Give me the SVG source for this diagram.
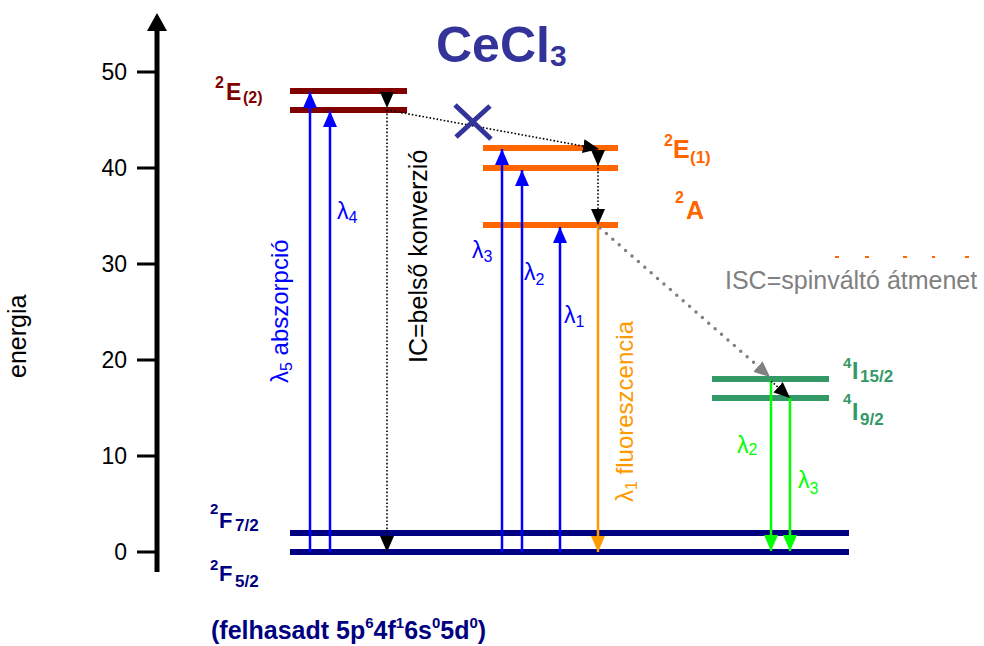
<svg xmlns="http://www.w3.org/2000/svg" width="984" height="646" viewBox="0 0 984 646">
<defs>
<style>
text{font-family:"Liberation Sans",Arial,sans-serif}
.b{font-weight:bold}
.lvl{stroke-width:6;fill:none}
.blue{stroke:#0000FF;stroke-width:2.5;fill:none}
.grn{stroke:#00FF00;stroke-width:2.5;fill:none}
.org{stroke:#FF9900;stroke-width:2.5;fill:none}
.dot{stroke:#000;stroke-width:1.6;stroke-dasharray:1.6 2;fill:none}
.gdot{stroke:#808080;stroke-width:3.5;stroke-dasharray:0 8.5;stroke-linecap:round;fill:none}
.tick{stroke:#000;stroke-width:3}
</style>
<marker id="ab" viewBox="0 0 16 14" refX="16" refY="7" markerWidth="16" markerHeight="14" orient="auto" markerUnits="userSpaceOnUse"><path d="M0,0L16,7L0,14z" fill="#0000FF"/></marker>
<marker id="ag" viewBox="0 0 16 14" refX="16" refY="7" markerWidth="16" markerHeight="14" orient="auto" markerUnits="userSpaceOnUse"><path d="M0,0L16,7L0,14z" fill="#00FF00"/></marker>
<marker id="ao" viewBox="0 0 16 14" refX="16" refY="7" markerWidth="16" markerHeight="14" orient="auto" markerUnits="userSpaceOnUse"><path d="M0,0L16,7L0,14z" fill="#FF9900"/></marker>
<marker id="ak" viewBox="0 0 16 14" refX="16" refY="7" markerWidth="16" markerHeight="14" orient="auto" markerUnits="userSpaceOnUse"><path d="M0,0L16,7L0,14z" fill="#000"/></marker>
<marker id="agr" viewBox="0 0 16 14" refX="16" refY="7" markerWidth="16" markerHeight="14" orient="auto" markerUnits="userSpaceOnUse"><path d="M0,0L16,7L0,14z" fill="#808080"/></marker>
</defs>
<rect width="984" height="646" fill="#fff"/>

<g id="axis">
<line x1="157" y1="572" x2="157" y2="28" stroke="#000" stroke-width="5"/>
<path d="M157,13L167,31L147,31z" fill="#000"/>
<line class="tick" x1="137" y1="72" x2="157" y2="72"/>
<line class="tick" x1="137" y1="168" x2="157" y2="168"/>
<line class="tick" x1="137" y1="264" x2="157" y2="264"/>
<line class="tick" x1="137" y1="360" x2="157" y2="360"/>
<line class="tick" x1="137" y1="456" x2="157" y2="456"/>
<line class="tick" x1="137" y1="552" x2="157" y2="552"/>
<g font-size="23" text-anchor="end" fill="#000">
<text x="127" y="80">50</text>
<text x="127" y="176">40</text>
<text x="127" y="272">30</text>
<text x="127" y="368">20</text>
<text x="127" y="464">10</text>
<text x="127" y="560">0</text>
</g>
<text transform="translate(26,378) rotate(-90)" font-size="25">energia</text>
</g>

<text id="title" class="b" x="436" y="62" font-size="50" fill="#333399">CeCl<tspan font-size="30" dy="4">3</tspan></text>

<g id="E2">
<line class="lvl" stroke="#800000" x1="290" y1="91" x2="407" y2="91"/>
<line class="lvl" stroke="#800000" x1="290" y1="110" x2="407" y2="110"/>
<text class="b" fill="#800000"><tspan x="215" y="88" font-size="16">2</tspan><tspan x="226" y="100" font-size="23">E</tspan><tspan x="243" y="103" font-size="16">(2)</tspan></text>
</g>

<g id="E1">
<line class="lvl" stroke="#FF6600" x1="483" y1="148" x2="618" y2="148"/>
<line class="lvl" stroke="#FF6600" x1="483" y1="168" x2="618" y2="168"/>
<text class="b" fill="#FF6600"><tspan x="664" y="146" font-size="16">2</tspan><tspan x="673" y="158" font-size="25">E</tspan><tspan x="690" y="163" font-size="17">(1)</tspan></text>
</g>

<g id="A2">
<line class="lvl" stroke="#FF6600" x1="483" y1="225" x2="618" y2="225"/>
<text class="b" fill="#FF6600"><tspan x="675" y="203" font-size="16">2</tspan><tspan x="686" y="219" font-size="25">A</tspan></text>
</g>

<g id="I4">
<line class="lvl" stroke="#339966" x1="712" y1="379" x2="829" y2="379"/>
<line class="lvl" stroke="#339966" x1="712" y1="398" x2="829" y2="398"/>
<text class="b" fill="#339966"><tspan x="843" y="368" font-size="15">4</tspan><tspan x="852" y="379" font-size="23">I</tspan><tspan x="860" y="382" font-size="17">15/2</tspan></text>
<text class="b" fill="#339966"><tspan x="843" y="404" font-size="15">4</tspan><tspan x="852" y="420" font-size="23">I</tspan><tspan x="860" y="425" font-size="17">9/2</tspan></text>
</g>

<g id="F">
<line class="lvl" stroke="#000080" x1="290" y1="533" x2="849" y2="533"/>
<line class="lvl" stroke="#000080" x1="290" y1="552" x2="849" y2="552"/>
<text class="b" fill="#000080"><tspan x="210" y="514" font-size="15">2</tspan><tspan x="219" y="528" font-size="22">F</tspan><tspan x="235" y="531" font-size="17">7/2</tspan></text>
<text class="b" fill="#000080"><tspan x="210" y="570" font-size="15">2</tspan><tspan x="219" y="581" font-size="22">F</tspan><tspan x="235" y="587" font-size="17">5/2</tspan></text>
<text class="b" x="211" y="639" font-size="25" fill="#000080">(felhasadt 5p<tspan font-size="15" dy="-11">6</tspan><tspan dy="11">4f</tspan><tspan font-size="15" dy="-11">1</tspan><tspan dy="11">6s</tspan><tspan font-size="15" dy="-11">0</tspan><tspan dy="11">5d</tspan><tspan font-size="15" dy="-11">0</tspan><tspan dy="11">)</tspan></text>
</g>

<g id="connectors">
<line class="blue" x1="310" y1="552" x2="310" y2="92" marker-end="url(#ab)"/>
<line class="blue" x1="330" y1="552" x2="330" y2="111" marker-end="url(#ab)"/>
<line class="blue" x1="502" y1="552" x2="502" y2="149" marker-end="url(#ab)"/>
<line class="blue" x1="522" y1="552" x2="522" y2="170" marker-end="url(#ab)"/>
<line class="blue" x1="560" y1="552" x2="560" y2="227" marker-end="url(#ab)"/>
<line class="org" x1="598" y1="226" x2="598" y2="552" marker-end="url(#ao)"/>
<line class="grn" x1="771" y1="380" x2="771" y2="551" marker-end="url(#ag)"/>
<line class="grn" x1="790" y1="398" x2="790" y2="551" marker-end="url(#ag)"/>
<line class="dot" x1="387" y1="93" x2="387" y2="108" marker-end="url(#ak)"/>
<line class="dot" x1="387" y1="110" x2="387" y2="552" marker-end="url(#ak)"/>
<line class="dot" x1="387" y1="110" x2="599" y2="149" marker-end="url(#ak)"/>
<line class="dot" x1="598" y1="150" x2="598" y2="166" marker-end="url(#ak)"/>
<line class="dot" x1="598" y1="168" x2="598" y2="225" marker-end="url(#ak)"/>
<line class="gdot" x1="600" y1="228" x2="760" y2="368"/>
<line x1="755" y1="364" x2="770" y2="377" stroke="#808080" stroke-width="0.1" marker-end="url(#agr)"/>
<line class="dot" x1="771" y1="381" x2="790" y2="398" marker-end="url(#ak)"/>
</g>

<g id="cross" stroke="#333399" stroke-width="5">
<line x1="455" y1="105" x2="491" y2="139"/>
<line x1="490" y1="106" x2="456" y2="137"/>
</g>

<g id="labels">
<g fill="#0000FF">
<text x="337" y="219" font-size="23">λ<tspan font-size="16" dy="4">4</tspan></text>
<text x="472" y="258" font-size="23">λ<tspan font-size="16" dy="4">3</tspan></text>
<text x="524" y="280" font-size="23">λ<tspan font-size="16" dy="5">2</tspan></text>
<text x="564" y="323" font-size="23">λ<tspan font-size="16" dy="4">1</tspan></text>
<text transform="translate(288,383) rotate(-90)" font-size="24">λ<tspan font-size="16" dy="4">5</tspan><tspan dy="-4"> abszorpció</tspan></text>
</g>
<g fill="#00FF00">
<text x="737" y="453" font-size="23">λ<tspan font-size="16" dy="2">2</tspan></text>
<text x="798" y="488" font-size="23">λ<tspan font-size="16" dy="6">3</tspan></text>
</g>
<text transform="translate(427,363) rotate(-90)" font-size="25" fill="#000">IC=belső konverzió</text>
<text transform="translate(633,502) rotate(-90)" font-size="24" fill="#FF9900">λ<tspan font-size="16" dy="4">1</tspan><tspan dy="-4"> fluoreszcencia</tspan></text>
<text x="725" y="289" font-size="25" fill="#808080">ISC=spinváltó átmenet</text>
<g fill="#FF6600">
<rect x="835" y="256" width="4" height="2"/>
<rect x="865" y="256" width="4" height="2"/>
<rect x="903" y="256" width="4" height="2"/>
<rect x="932" y="256" width="3" height="2"/>
<rect x="965" y="256" width="4" height="2"/>
</g>
</g>
</svg>
